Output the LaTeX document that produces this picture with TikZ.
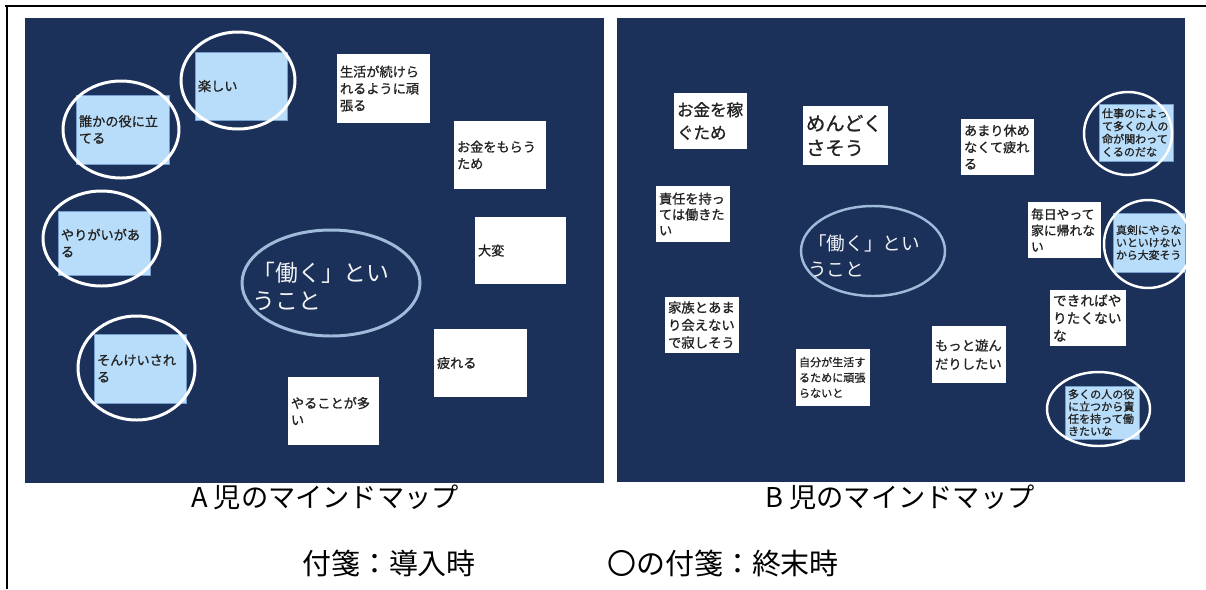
\documentclass[tikz,border=0pt]{standalone}
\usepackage{fontspec}
\usetikzlibrary{shapes.geometric}
\newfontfamily\jp{Noto Sans CJK JP}
\newfontfamily\jpb[FakeBold=1]{Noto Sans CJK JP}
\newcommand\jpsize[2]{\jp\fontsize{#1}{#2}\selectfont}
\newcommand\jpbsize[2]{\jpb\fontsize{#1}{#2}\selectfont}
\definecolor{kon}{RGB}{27,49,90}
\definecolor{mizu}{RGB}{184,221,250}
\definecolor{mizuline}{RGB}{118,158,204}
\definecolor{waku}{RGB}{160,186,218}
\definecolor{moji}{RGB}{35,35,35}

\begin{document}
\begin{tikzpicture}[x=0.02cm,y=-0.02cm]
\tikzset{fusen/.style 2 args={rectangle,fill=white,inner xsep=0.06cm,inner ysep=0pt,
	minimum width=#1*0.02cm,minimum height=#2*0.02cm,text width=#1*0.02cm-0.12cm,
	align=left,text=moji,font=\jpbsize{7.5}{9.6}},
	ao/.style={fill=mizu,draw=mizuline,line width=0.4pt},
	maru/.style 2 args={ellipse,draw=white,line width=1.7pt,
	minimum width=#1*0.02cm,minimum height=#2*0.02cm,inner sep=0pt}}
\useasboundingbox (0,0) rectangle (1206,589);

\draw[line width=1.1pt] (5,6) -- (1206,6);
\draw[line width=1.1pt] (7,6) -- (7,589);

\fill[kon] (25,18) rectangle (604,483);
\fill[kon] (617,18) rectangle (1185,482);

\node[fusen={92}{68},ao] (a1) at (241,86) {楽しい};
\node[fusen={93}{69},ao] (a2) at (122.5,129.5) {誰かの役に立\\てる};
\node[fusen={92}{64},ao] (a3) at (104,243) {やりがいがあ\\る};
\node[fusen={92}{69},ao] (a4) at (140,368.5) {そんけいされ\\る};
\node[fusen={93}{69}] (a5) at (383.5,88.5) {生活が続けら\\れるように頑\\張る};
\node[fusen={92}{68}] (a6) at (500,155) {お金をもらう\\ため};
\node[fusen={91}{67}] (a7) at (520.5,250.5) {大変};
\node[fusen={93}{68}] (a8) at (480.5,363) {疲れる};
\node[fusen={91}{68}] (a9) at (333.5,411) {やることが多\\い};

\node[maru={114}{97}] (ea1) at (238,80.5) {};
\node[maru={116}{97}] (ea2) at (121,129.5) {};
\node[maru={117}{95}] (ea3) at (101.5,238.5) {};
\node[maru={117}{104}] (ea4) at (136.5,368) {};

\node[maru={178}{106},draw=waku] (ahataraku) at (331,283) {};
\node[font=\jpsize{13}{15.9},text=white!94!kon,align=left] (atext) at (321,286)
	{「働く」とい\\うこと};

\node[fusen={73}{56},font=\jpbsize{9.4}{13}] (b1) at (710.5,121) {お金を稼\\ぐため};
\node[fusen={85}{59},font=\jpbsize{11}{14}] (b2) at (845.5,135.5) {めんどく\\さそう};
\node[fusen={74}{56},font=\jpbsize{7.5}{9}] (b3) at (693,214) {責任を持っ\\ては働きた\\い};
\node[fusen={73}{56},font=\jpbsize{7.5}{9.5}] (b4) at (997.5,147) {あまり休め\\なくて疲れ\\る};
\node[fusen={74}{57},ao,font=\jpbsize{6.3}{7.3}] (b5) at (1136,132.5)
	{仕事のによっ\\て多くの人の\\命が関わって\\くるのだな};
\node[fusen={73}{56},font=\jpbsize{7.3}{9.2}] (b6) at (1064.5,230) {毎日やって\\家に帰れな\\い};
\node[fusen={72}{59},ao,font=\jpbsize{6.2}{7.1}] (b7) at (1149,242.5)
	{真剣にやらな\\いといけない\\から大変そう};
\node[fusen={76}{56},font=\jpbsize{7.8}{10}] (b8) at (1088,318) {できればや\\りたくない\\な};
\node[fusen={74}{57},font=\jpbsize{7.6}{10.5}] (b9) at (969,354.5) {もっと遊ん\\だりしたい};
\node[fusen={74}{53},ao,font=\jpbsize{6.3}{7}] (b10) at (1102,412.5)
	{多くの人の役\\に立つから責\\任を持って働\\きたいな};
\node[fusen={74}{56},font=\jpbsize{7.6}{10}] (b11) at (702,325) {家族とあま\\り会えない\\で寂しそう};
\node[fusen={74}{57},font=\jpbsize{6.3}{8.8}] (b12) at (833,377.5) {自分が生活す\\るために頑張\\らないと};

\node[maru={88}{83},line width=1.4pt] (eb1) at (1128,133.5) {};
\node[maru={88}{88},line width=1.4pt] (eb2) at (1148,244) {};
\node[maru={103}{74},line width=1.4pt] (eb3) at (1098.5,409) {};

\node[maru={144}{90},draw=waku,line width=1.4pt] (bhataraku) at (873,251) {};
\node[font=\jpsize{10.6}{14.7},text=white!94!kon,align=left] (btext) at (864,256)
	{「働く」とい\\うこと};

\node[font=\jpsize{15.5}{18}] (capa) at (325,497) {A 児のマインドマップ};
\node[font=\jpsize{15.5}{18}] (capb) at (900,497) {B 児のマインドマップ};
\node[font=\jpsize{16.5}{19}] (hanrei1) at (389,563) {付箋：導入時};
\node[font=\jpsize{16.5}{19}] (hanrei2) at (723,563) {〇の付箋：終末時};

\end{tikzpicture}
\end{document}
